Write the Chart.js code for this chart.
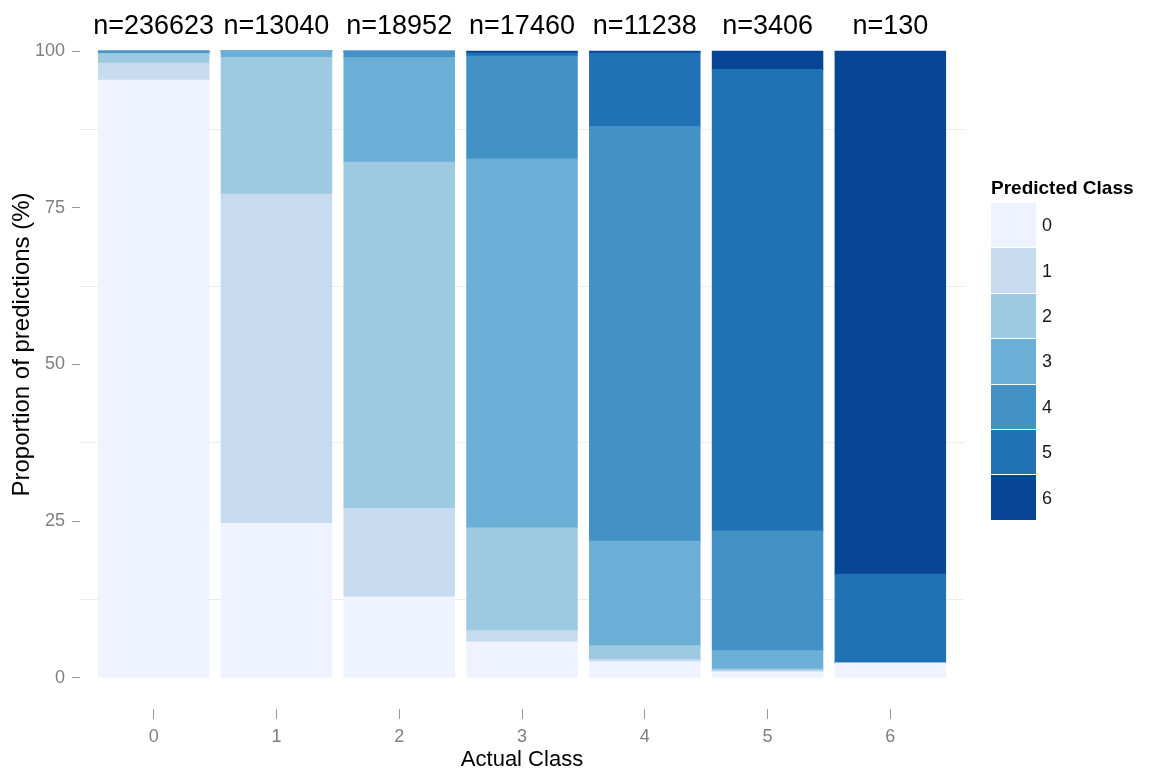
<!DOCTYPE html>
<html>
<head>
<meta charset="utf-8">
<script src="https://cdn.jsdelivr.net/npm/chart.js@4/dist/chart.umd.min.js"></script>
<style>
  body { margin: 0; background: #fff; font-family: "Liberation Sans", Arial, sans-serif; }
  #wrap { position: relative; width: 1149px; height: 776px; }
  #legend { position: absolute; left: 991px; top: 177px; }
  #legend h4 { margin: 0 0 4px 0; font-size: 19px; font-weight: bold; color: #000; white-space: nowrap; line-height: 22px; }
  .key { display: flex; align-items: center; height: 45.4px; }
  .swatch { width: 45px; height: 44.4px; border-bottom: 1px solid #fff; }
  .key span { margin-left: 6px; font-size: 18px; color: #1a1a1a; }
</style>
</head>
<body>
<div id="wrap">
  <canvas id="chart"></canvas>
  <div id="legend"></div>
</div>
<script>
const actualClasses = [0, 1, 2, 3, 4, 5, 6];
const sampleSizes = [236623, 13040, 18952, 17460, 11238, 3406, 130];
const yTicks = [0, 12.5, 25, 37.5, 50, 62.5, 75, 87.5, 100];

// share (%) of each predicted class, per actual class 0..6
const predicted0 = [95.4, 24.6, 12.9, 5.7, 2.55, 0.9, 2.3];
const predicted1 = [2.7, 52.6, 14.1, 1.8, 0.35, 0.2, 0];
const predicted2 = [1.5, 21.8, 55.3, 16.4, 2.2, 0.3, 0];
const predicted3 = [0.1, 1.0, 16.7, 58.9, 16.7, 2.9, 0];
const predicted4 = [0.3, 0, 1.0, 16.4, 66.2, 19.1, 0];
const predicted5 = [0, 0, 0, 0.5, 11.7, 73.7, 14.2];
const predicted6 = [0, 0, 0, 0.3, 0.3, 2.9, 83.5];

const predictedClasses = ["0", "1", "2", "3", "4", "5", "6"];
const classColors = ["#eff3ff", "#c6dbef", "#9ecae1", "#6baed6", "#4292c6", "#2171b5", "#084594"];

const FONT = "'Liberation Sans', Arial, sans-serif";
const series = [predicted0, predicted1, predicted2, predicted3, predicted4, predicted5, predicted6];

// "n=..." counts drawn above each bar
const nLabelPlugin = {
  id: "nLabels",
  afterDatasetsDraw(chart) {
    const { ctx, scales } = chart;
    ctx.save();
    ctx.font = `27px ${FONT}`;
    ctx.fillStyle = "#000";
    ctx.textAlign = "center";
    ctx.textBaseline = "middle";
    actualClasses.forEach((c, i) => {
      ctx.fillText(`n=${sampleSizes[i]}`, scales.x.getPixelForValue(c), scales.y.getPixelForValue(104));
    });
    ctx.restore();
  },
};

function isMajor(v) {
  return v % 25 === 0;
}

const datasets = series.map((values, k) => ({
  label: predictedClasses[k],
  data: values.map((v, i) => ({ x: actualClasses[i], y: v })),
  backgroundColor: classColors[k],
  borderWidth: 0,
  inflateAmount: 0.5,
  barPercentage: 0.9,
  categoryPercentage: 1,
}));

new Chart(document.getElementById("chart"), {
  type: "bar",
  data: { datasets },
  plugins: [nLabelPlugin],
  options: {
    responsive: true,
    maintainAspectRatio: false,
    animation: false,
    layout: { padding: { top: 20, right: 185, left: 0, bottom: 0 } },
    plugins: { legend: { display: false }, tooltip: { enabled: false } },
    scales: {
      x: {
        type: "linear",
        stacked: true,
        offset: false,
        min: -0.6,
        max: 6.6,
        afterBuildTicks: (scale) => { scale.ticks = actualClasses.map((v) => ({ value: v })); },
        afterFit: (scale) => { scale.height = 67; },
        border: { display: false },
        grid: { offset: false, drawOnChartArea: false, tickColor: "#999", tickLength: 10 },
        ticks: {
          autoSkip: false,
          padding: 7,
          color: "#7f7f7f",
          font: { family: FONT, size: 18 },
          callback: (v) => String(v),
        },
        title: {
          display: true,
          text: "Actual Class",
          color: "#000",
          font: { family: FONT, size: 22 },
          padding: { top: 0, bottom: 3 },
        },
      },
      y: {
        stacked: true,
        min: -5,
        max: 105,
        afterBuildTicks: (scale) => { scale.ticks = yTicks.map((v) => ({ value: v })); },
        afterFit: (scale) => { scale.width = 80; },
        border: { display: false },
        grid: {
          color: (c) => (isMajor(c.tick.value) ? "rgba(0,0,0,0)" : "#ececec"),
          tickColor: (c) => (isMajor(c.tick.value) ? "#999" : "rgba(0,0,0,0)"),
          tickLength: 8,
        },
        ticks: {
          autoSkip: false,
          padding: 7,
          color: "#7f7f7f",
          font: { family: FONT, size: 18 },
          callback: (v) => (isMajor(v) ? String(v) : ""),
        },
        title: {
          display: true,
          text: "      Proportion of predictions (%)",
          color: "#000",
          font: { family: FONT, size: 24 },
          padding: { top: 8, bottom: 0 },
        },
      },
    },
  },
});

const legendEl = document.getElementById("legend");
legendEl.innerHTML = "<h4>Predicted Class</h4>";
predictedClasses.forEach((name, k) => {
  const key = document.createElement("div");
  key.className = "key";
  key.innerHTML = `<div class="swatch" style="background:${classColors[k]}"></div><span>${name}</span>`;
  legendEl.appendChild(key);
});
</script>
</body>
</html>
